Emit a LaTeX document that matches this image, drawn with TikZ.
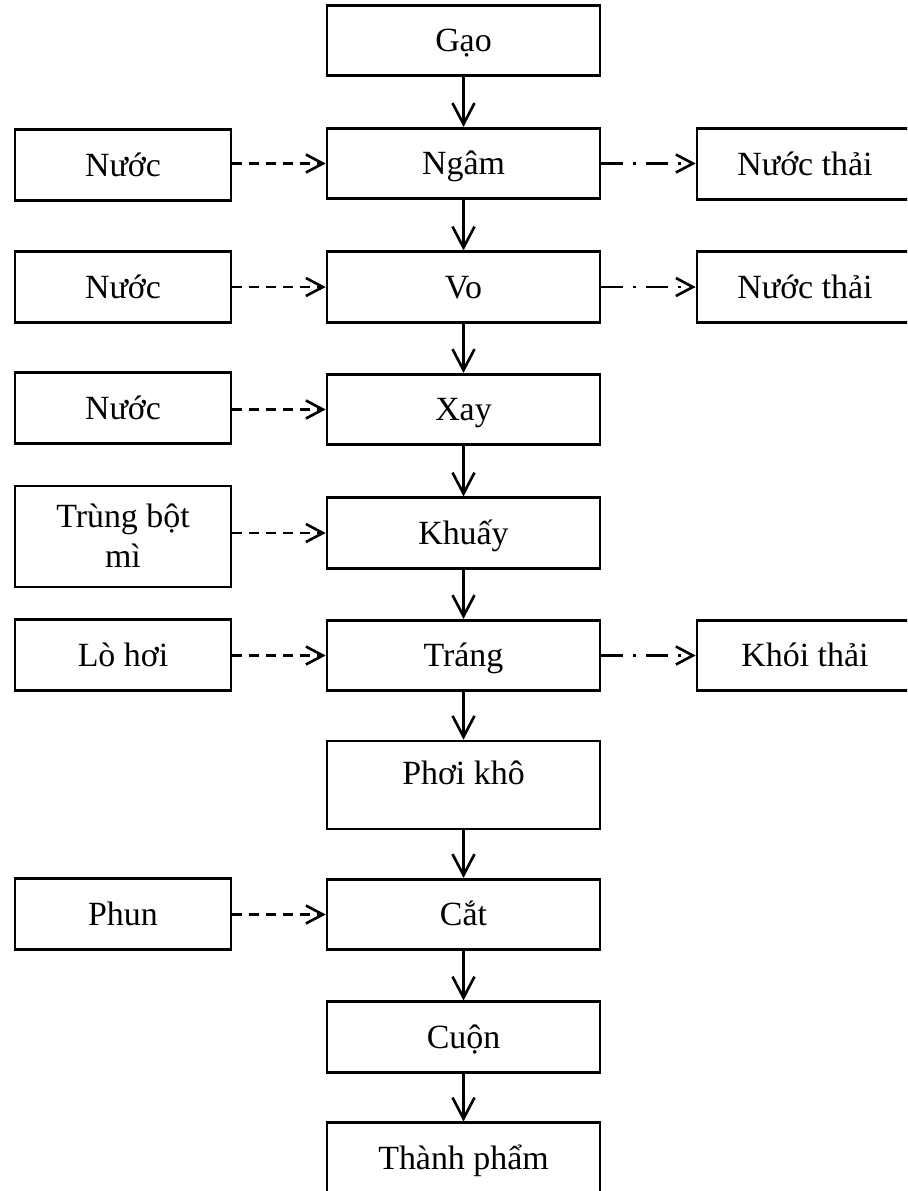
\documentclass[tikz,border=0pt]{standalone}
\usepackage{fontspec}
\setmainfont{Liberation Serif}
\usepackage{tikz}
\usetikzlibrary{arrows.meta}
\usetikzlibrary{calc}
\tikzset{
	box/.style={shape=rectangle,draw,line width=1.5pt,inner sep=0pt,minimum height=1.41cm,
		text height=0.45cm,text depth=0pt,align=center,font=\fontsize{19.3}{22.2}\selectfont},
	mainbox/.style={box,minimum width=5.46cm},
	sidebox/.style={box,minimum width=4.32cm},
	flow/.style={line width=1.5pt,-{Straight Barb[length=0.42cm,width=0.44cm]}},
	feed/.style={line width=1.5pt,dash pattern=on 0.2cm off 0.14cm,-{Straight Barb[length=0.34cm,width=0.36cm]}},
	waste/.style={line width=1.5pt,dash pattern=on 0.44cm off 0.2cm on 0.06cm off 0.2cm,-{Straight Barb[length=0.34cm,width=0.36cm]}}
}
\newcommand{\feedin}[2]{\draw[feed] (#1.east |- #2) -- (#2.west);}
\newcommand{\wasteout}[2]{\draw[waste] (#1.east) -- (#2.west |- #1);}
\begin{document}
\begin{tikzpicture}[x=0.02cm,y=-0.02cm]
	\useasboundingbox (0,0) rectangle (907,1191);
	\clip (0,0) rectangle (907,1191);
	\draw (463.5,40.5) node (gao) [mainbox] {Gạo};
	\draw (463.5,163.5) node (ngam) [mainbox] {Ngâm};
	\draw (463.5,287) node (vo) [mainbox] {Vo};
	\draw (463.5,409.5) node (xay) [mainbox] {Xay};
	\draw (463.5,533) node (khuay) [mainbox] {Khuấy};
	\draw (463.5,655.5) node (trang) [mainbox] {Tráng};
	\draw (463.5,785) node (phoi) [mainbox,text height=0.86cm,text depth=0.9cm] {Phơi khô};
	\draw (463.5,914.5) node (cat) [mainbox] {Cắt};
	\draw (463.5,1037) node (cuon) [mainbox] {Cuộn};
	\draw (463.5,1158) node (tp) [mainbox] {Thành phẩm};
	\draw (123,165) node (nuoca) [sidebox] {Nước};
	\draw (123,287) node (nuocb) [sidebox] {Nước};
	\draw (123,408) node (nuocc) [sidebox] {Nước};
	\draw (123,536.5) node (bot) [sidebox,text height=1.62cm,text depth=0.4cm] {Trùng bột\\mì};
	\draw (123,655) node (lohoi) [sidebox] {Lò hơi};
	\draw (123,914) node (phun) [sidebox] {Phun};
	\draw (805,164) node (thaia) [sidebox] {Nước thải};
	\draw (805,287) node (thaib) [sidebox] {Nước thải};
	\draw (805,655.5) node (khoi) [sidebox] {Khói thải};
	\foreach \a/\b in {gao/ngam,ngam/vo,vo/xay,xay/khuay,khuay/trang,trang/phoi,phoi/cat,cat/cuon,cuon/tp}
		\draw[flow] (\a) -- (\b);
	\feedin{nuoca}{ngam}
	\feedin{nuocb}{vo}
	\feedin{nuocc}{xay}
	\feedin{bot}{khuay}
	\feedin{lohoi}{trang}
	\feedin{phun}{cat}
	\wasteout{ngam}{thaia}
	\wasteout{vo}{thaib}
	\wasteout{trang}{khoi}
\end{tikzpicture}
\end{document}
